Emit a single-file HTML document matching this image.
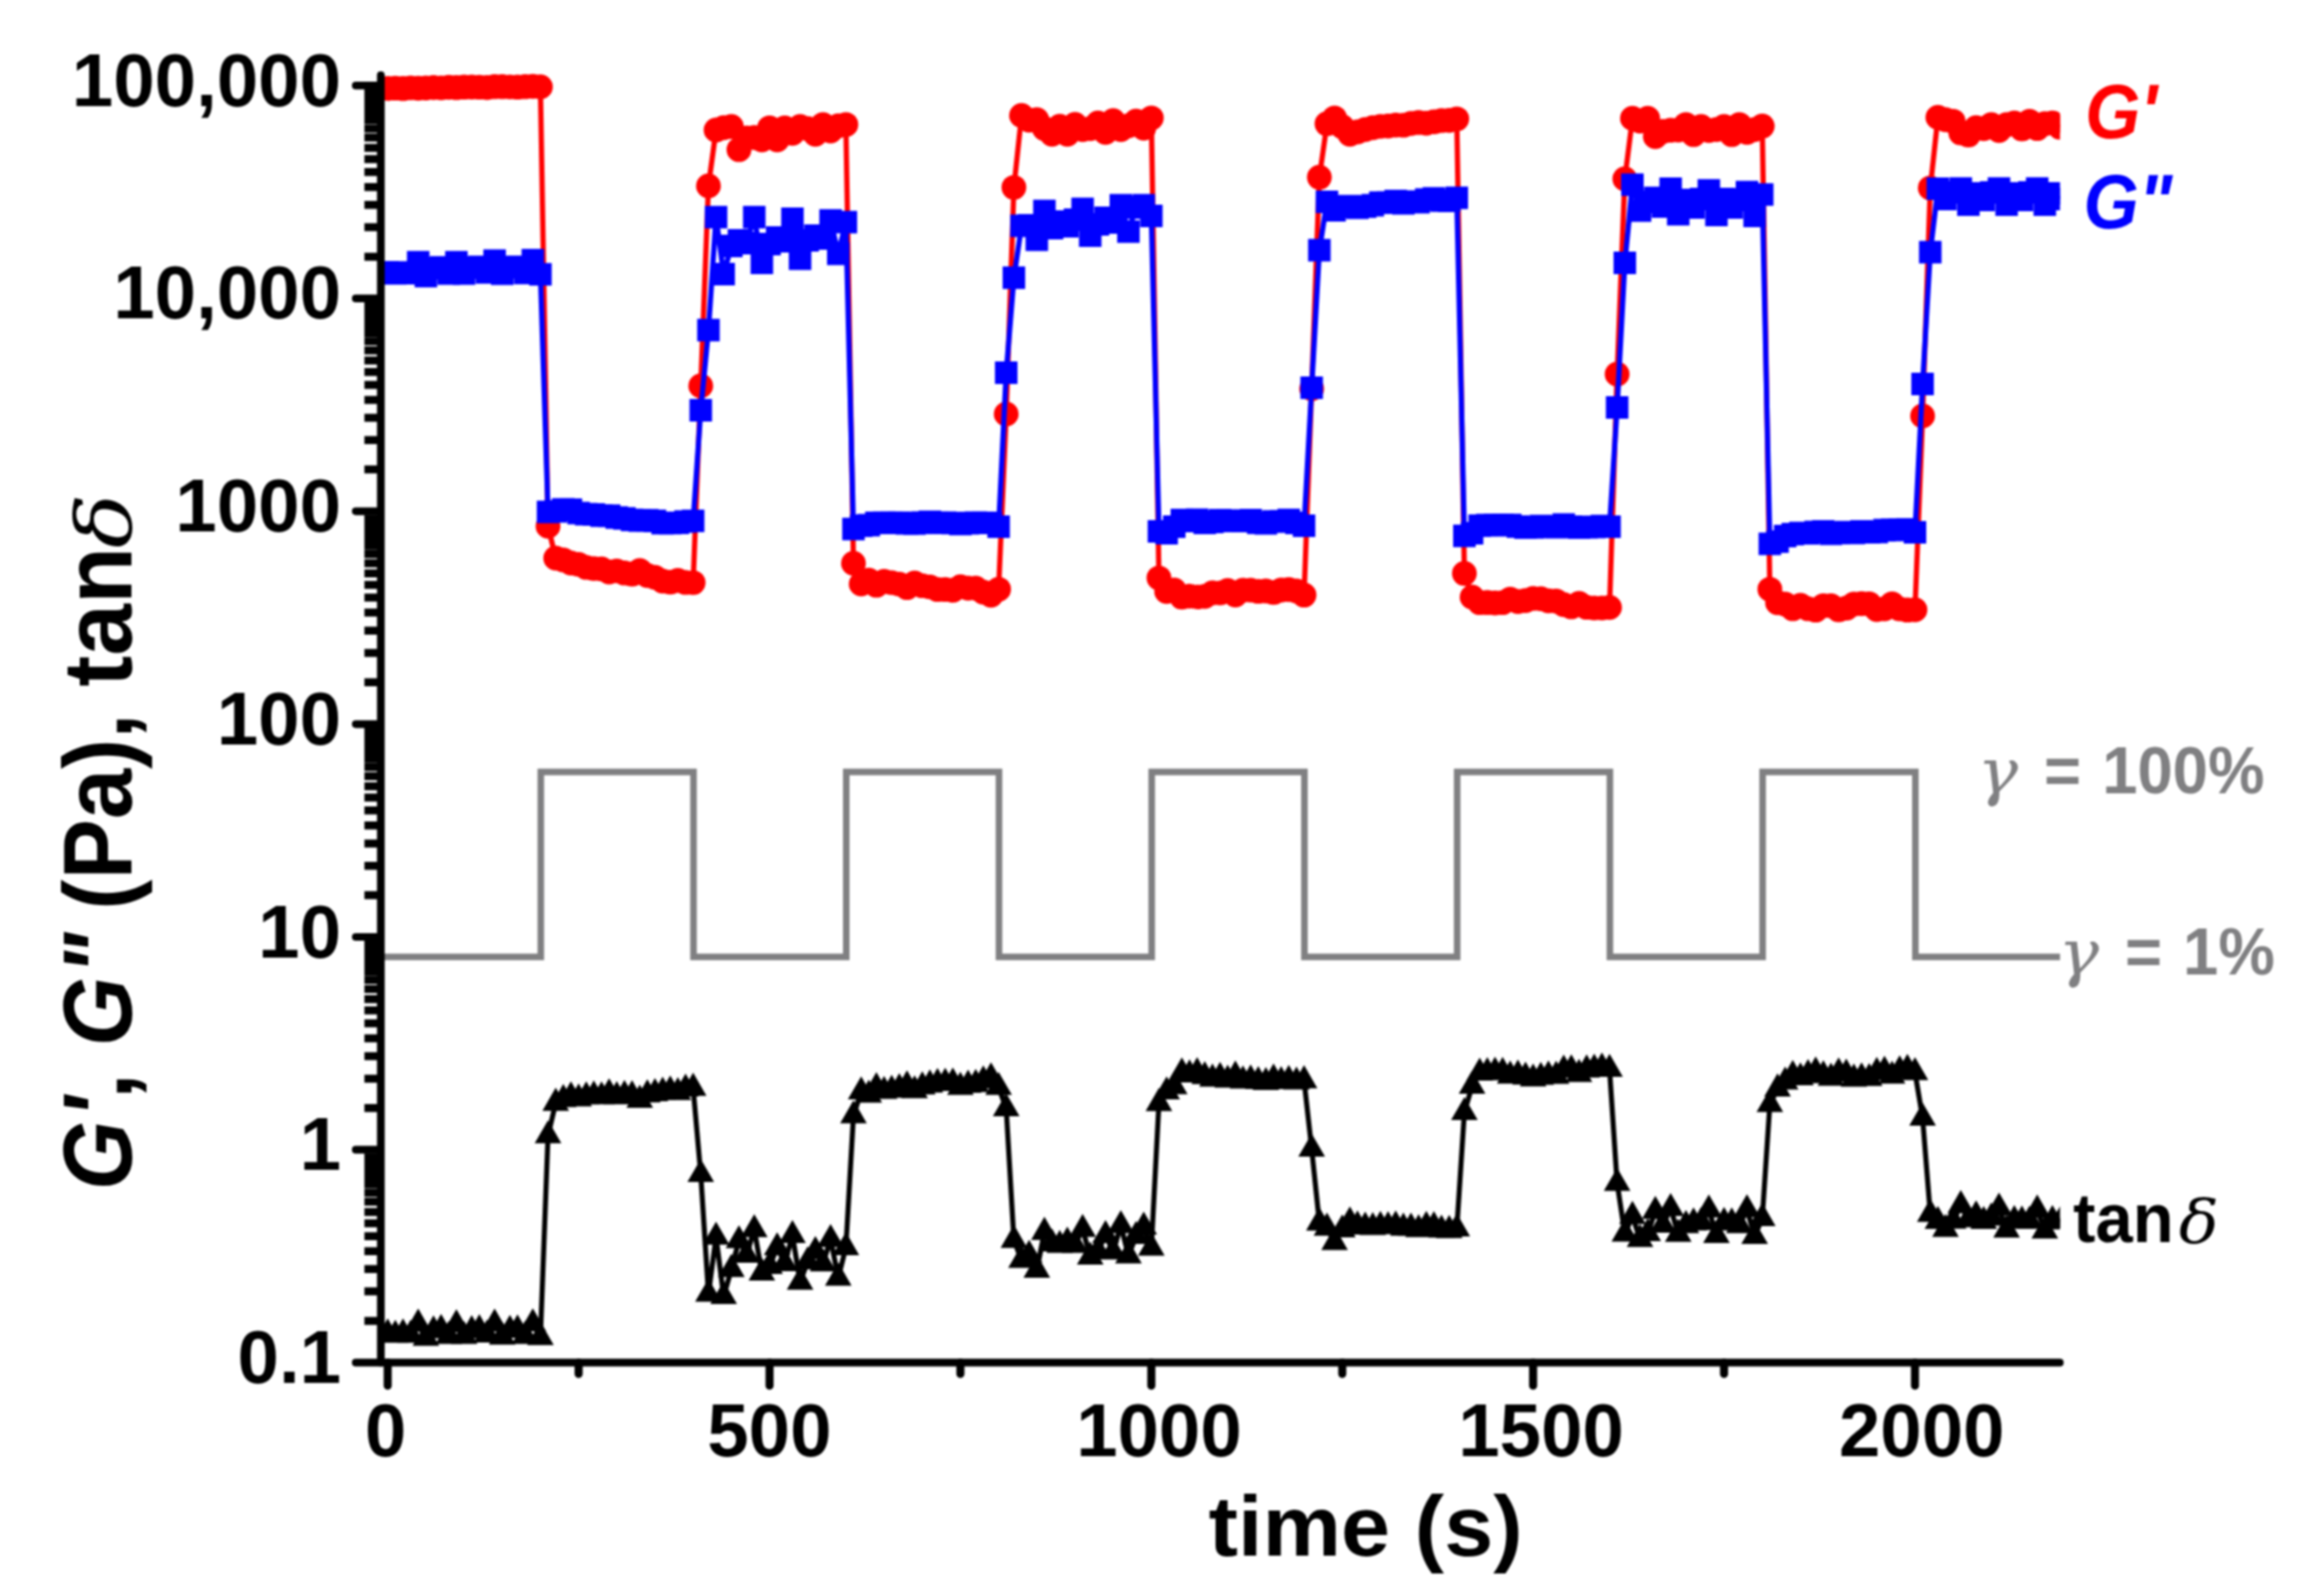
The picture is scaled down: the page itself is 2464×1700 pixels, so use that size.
<!DOCTYPE html>
<html lang="en"><head><meta charset="utf-8"><title>Step-strain rheology</title>
<style>html,body{margin:0;padding:0;background:#fff}svg{display:block;filter:blur(0.8px)}text{font-family:"Liberation Sans",sans-serif;font-weight:bold}.it{font-style:italic}.sy{font-family:"DejaVu Serif","Liberation Serif",serif;font-style:italic;font-weight:normal}</style></head><body>
<svg width="2464" height="1700" viewBox="0 0 2464 1700">
<rect width="2464" height="1700" fill="#fff"/>
<defs><clipPath id="plot"><rect x="404" y="40" width="1790.5" height="1420"/></clipPath></defs>
<g clip-path="url(#plot)">
<polyline fill="none" stroke="#808082" stroke-width="7" stroke-linejoin="miter" points="409,1019.3 576.1,1019.3 576.1,822.3 738.8,822.3 738.8,1019.3 901.5,1019.3 901.5,822.3 1064.2,822.3 1064.2,1019.3 1226.9,1019.3 1226.9,822.3 1389.6,822.3 1389.6,1019.3 1552.3,1019.3 1552.3,822.3 1715,822.3 1715,1019.3 1877.7,1019.3 1877.7,822.3 2040.4,822.3 2040.4,1019.3 2200,1019.3"/>
<polyline fill="none" stroke="#ff0000" stroke-width="5.6" stroke-linejoin="round" points="413,94.2 421.1,93.9 429.3,94.3 437.4,93.6 445.5,94 453.7,93.7 461.8,93.2 469.9,93.6 478.1,93 486.2,93.3 494.4,92.8 502.5,92.7 510.6,92.9 518.8,93.2 526.9,92.3 535,92.3 543.2,92.6 551.3,92.8 559.4,92.3 567.6,92 575.7,92.5 583.8,560.5 592,594.5 600.1,596.4 608.2,599.7 616.4,601.1 624.5,604.4 632.6,605.6 640.8,606 648.9,609.2 657,608.1 665.2,610.3 673.3,611.6 681.5,607.7 689.6,613 697.7,614.9 705.9,619 714,620.1 722.1,618.2 730.3,620.4 738.4,620.6 746.5,411 754.7,198 762.8,138.5 770.9,136 779.1,134.8 787.2,159.4 795.3,147 803.5,146.5 811.6,149 819.8,136.1 827.9,149 836,136.1 844.2,142 852.3,134.8 860.4,137 868.6,143 876.7,132.7 884.8,139.5 893,134 901.1,132.7 909.2,600 917.4,622 925.5,617.9 933.6,623.3 941.8,619.3 949.9,620.6 958,622.1 966.2,625.9 974.3,620.9 982.5,623.9 990.6,625.1 998.7,627.9 1006.9,627.9 1015,628.7 1023.1,625 1031.3,626.5 1039.4,626.5 1047.5,630.7 1055.7,634 1063.8,627.7 1071.9,441 1080.1,199.6 1088.2,123 1096.3,128 1104.5,127.5 1112.6,137 1120.7,143 1128.9,134.5 1137,143 1145.2,132.5 1153.3,138 1161.4,137 1169.6,131 1177.7,141 1185.8,128.5 1194,138 1202.1,134 1210.2,129 1218.4,136.5 1226.5,125.6 1234.6,615.6 1242.8,630 1250.9,628.5 1259,636.1 1267.2,635 1275.3,635.9 1283.4,635.2 1291.6,631.5 1299.7,631.6 1307.8,628.9 1316,633.7 1324.1,628.6 1332.3,628.6 1340.4,629.9 1348.5,629.5 1356.7,631.1 1364.8,628.5 1372.9,628 1381.1,629.4 1389.2,633.8 1397.3,414 1405.5,188.8 1413.6,131.8 1421.7,125.6 1429.9,135 1438,143 1446.1,140.5 1454.3,138 1462.4,136 1470.5,134.6 1478.7,134.2 1486.8,133.3 1495,133.4 1503.1,131.5 1511.2,130.5 1519.4,131.2 1527.5,129.8 1535.6,128.4 1543.8,128.2 1551.9,126.6 1560,610.8 1568.2,636 1576.3,641.8 1584.4,641.8 1592.6,642.2 1600.7,641.9 1608.8,638.1 1617,640.7 1625.1,639.7 1633.2,637.4 1641.4,637.7 1649.5,640 1657.7,640.2 1665.8,644 1673.9,646.4 1682.1,642.6 1690.2,646.9 1698.3,647.6 1706.5,647.6 1714.6,647 1722.7,398.5 1730.9,190.5 1739,126 1747.1,129 1755.3,126 1763.4,145.5 1771.5,140 1779.7,138.7 1787.8,138.5 1796,132.6 1804.1,143.4 1812.2,134.8 1820.4,139 1828.5,138 1836.6,134.8 1844.8,143.4 1852.9,132.6 1861,141 1869.2,138 1877.3,134.3 1885.4,627.7 1893.6,642 1901.7,643.4 1909.8,648.3 1918,644.7 1926.1,648.4 1934.2,649.8 1942.4,645.2 1950.5,645.2 1958.7,649.6 1966.8,647.8 1974.9,643.4 1983.1,643 1991.2,643.2 1999.3,649.2 2007.5,648.5 2015.6,643.2 2023.7,648.6 2031.9,649.8 2040,649.5 2048.1,443 2056.3,200.2 2064.4,125 2072.5,127.5 2080.7,129.2 2088.8,141.6 2096.9,143.8 2105.1,136 2113.2,137 2121.3,132.6 2129.5,139 2137.6,132.8 2145.8,131 2153.9,137.3 2162,129.2 2170.2,136.9 2178.3,131.8 2186.4,130.9 2194.6,135.6"/>
<g fill="#ff0000"><circle cx="413" cy="94.2" r="13.2"/><circle cx="421.1" cy="93.9" r="13.2"/><circle cx="429.3" cy="94.3" r="13.2"/><circle cx="437.4" cy="93.6" r="13.2"/><circle cx="445.5" cy="94" r="13.2"/><circle cx="453.7" cy="93.7" r="13.2"/><circle cx="461.8" cy="93.2" r="13.2"/><circle cx="469.9" cy="93.6" r="13.2"/><circle cx="478.1" cy="93" r="13.2"/><circle cx="486.2" cy="93.3" r="13.2"/><circle cx="494.4" cy="92.8" r="13.2"/><circle cx="502.5" cy="92.7" r="13.2"/><circle cx="510.6" cy="92.9" r="13.2"/><circle cx="518.8" cy="93.2" r="13.2"/><circle cx="526.9" cy="92.3" r="13.2"/><circle cx="535" cy="92.3" r="13.2"/><circle cx="543.2" cy="92.6" r="13.2"/><circle cx="551.3" cy="92.8" r="13.2"/><circle cx="559.4" cy="92.3" r="13.2"/><circle cx="567.6" cy="92" r="13.2"/><circle cx="575.7" cy="92.5" r="13.2"/><circle cx="583.8" cy="560.5" r="13.2"/><circle cx="592" cy="594.5" r="13.2"/><circle cx="600.1" cy="596.4" r="13.2"/><circle cx="608.2" cy="599.7" r="13.2"/><circle cx="616.4" cy="601.1" r="13.2"/><circle cx="624.5" cy="604.4" r="13.2"/><circle cx="632.6" cy="605.6" r="13.2"/><circle cx="640.8" cy="606" r="13.2"/><circle cx="648.9" cy="609.2" r="13.2"/><circle cx="657" cy="608.1" r="13.2"/><circle cx="665.2" cy="610.3" r="13.2"/><circle cx="673.3" cy="611.6" r="13.2"/><circle cx="681.5" cy="607.7" r="13.2"/><circle cx="689.6" cy="613" r="13.2"/><circle cx="697.7" cy="614.9" r="13.2"/><circle cx="705.9" cy="619" r="13.2"/><circle cx="714" cy="620.1" r="13.2"/><circle cx="722.1" cy="618.2" r="13.2"/><circle cx="730.3" cy="620.4" r="13.2"/><circle cx="738.4" cy="620.6" r="13.2"/><circle cx="746.5" cy="411" r="13.2"/><circle cx="754.7" cy="198" r="13.2"/><circle cx="762.8" cy="138.5" r="13.2"/><circle cx="770.9" cy="136" r="13.2"/><circle cx="779.1" cy="134.8" r="13.2"/><circle cx="787.2" cy="159.4" r="13.2"/><circle cx="795.3" cy="147" r="13.2"/><circle cx="803.5" cy="146.5" r="13.2"/><circle cx="811.6" cy="149" r="13.2"/><circle cx="819.8" cy="136.1" r="13.2"/><circle cx="827.9" cy="149" r="13.2"/><circle cx="836" cy="136.1" r="13.2"/><circle cx="844.2" cy="142" r="13.2"/><circle cx="852.3" cy="134.8" r="13.2"/><circle cx="860.4" cy="137" r="13.2"/><circle cx="868.6" cy="143" r="13.2"/><circle cx="876.7" cy="132.7" r="13.2"/><circle cx="884.8" cy="139.5" r="13.2"/><circle cx="893" cy="134" r="13.2"/><circle cx="901.1" cy="132.7" r="13.2"/><circle cx="909.2" cy="600" r="13.2"/><circle cx="917.4" cy="622" r="13.2"/><circle cx="925.5" cy="617.9" r="13.2"/><circle cx="933.6" cy="623.3" r="13.2"/><circle cx="941.8" cy="619.3" r="13.2"/><circle cx="949.9" cy="620.6" r="13.2"/><circle cx="958" cy="622.1" r="13.2"/><circle cx="966.2" cy="625.9" r="13.2"/><circle cx="974.3" cy="620.9" r="13.2"/><circle cx="982.5" cy="623.9" r="13.2"/><circle cx="990.6" cy="625.1" r="13.2"/><circle cx="998.7" cy="627.9" r="13.2"/><circle cx="1006.9" cy="627.9" r="13.2"/><circle cx="1015" cy="628.7" r="13.2"/><circle cx="1023.1" cy="625" r="13.2"/><circle cx="1031.3" cy="626.5" r="13.2"/><circle cx="1039.4" cy="626.5" r="13.2"/><circle cx="1047.5" cy="630.7" r="13.2"/><circle cx="1055.7" cy="634" r="13.2"/><circle cx="1063.8" cy="627.7" r="13.2"/><circle cx="1071.9" cy="441" r="13.2"/><circle cx="1080.1" cy="199.6" r="13.2"/><circle cx="1088.2" cy="123" r="13.2"/><circle cx="1096.3" cy="128" r="13.2"/><circle cx="1104.5" cy="127.5" r="13.2"/><circle cx="1112.6" cy="137" r="13.2"/><circle cx="1120.7" cy="143" r="13.2"/><circle cx="1128.9" cy="134.5" r="13.2"/><circle cx="1137" cy="143" r="13.2"/><circle cx="1145.2" cy="132.5" r="13.2"/><circle cx="1153.3" cy="138" r="13.2"/><circle cx="1161.4" cy="137" r="13.2"/><circle cx="1169.6" cy="131" r="13.2"/><circle cx="1177.7" cy="141" r="13.2"/><circle cx="1185.8" cy="128.5" r="13.2"/><circle cx="1194" cy="138" r="13.2"/><circle cx="1202.1" cy="134" r="13.2"/><circle cx="1210.2" cy="129" r="13.2"/><circle cx="1218.4" cy="136.5" r="13.2"/><circle cx="1226.5" cy="125.6" r="13.2"/><circle cx="1234.6" cy="615.6" r="13.2"/><circle cx="1242.8" cy="630" r="13.2"/><circle cx="1250.9" cy="628.5" r="13.2"/><circle cx="1259" cy="636.1" r="13.2"/><circle cx="1267.2" cy="635" r="13.2"/><circle cx="1275.3" cy="635.9" r="13.2"/><circle cx="1283.4" cy="635.2" r="13.2"/><circle cx="1291.6" cy="631.5" r="13.2"/><circle cx="1299.7" cy="631.6" r="13.2"/><circle cx="1307.8" cy="628.9" r="13.2"/><circle cx="1316" cy="633.7" r="13.2"/><circle cx="1324.1" cy="628.6" r="13.2"/><circle cx="1332.3" cy="628.6" r="13.2"/><circle cx="1340.4" cy="629.9" r="13.2"/><circle cx="1348.5" cy="629.5" r="13.2"/><circle cx="1356.7" cy="631.1" r="13.2"/><circle cx="1364.8" cy="628.5" r="13.2"/><circle cx="1372.9" cy="628" r="13.2"/><circle cx="1381.1" cy="629.4" r="13.2"/><circle cx="1389.2" cy="633.8" r="13.2"/><circle cx="1397.3" cy="414" r="13.2"/><circle cx="1405.5" cy="188.8" r="13.2"/><circle cx="1413.6" cy="131.8" r="13.2"/><circle cx="1421.7" cy="125.6" r="13.2"/><circle cx="1429.9" cy="135" r="13.2"/><circle cx="1438" cy="143" r="13.2"/><circle cx="1446.1" cy="140.5" r="13.2"/><circle cx="1454.3" cy="138" r="13.2"/><circle cx="1462.4" cy="136" r="13.2"/><circle cx="1470.5" cy="134.6" r="13.2"/><circle cx="1478.7" cy="134.2" r="13.2"/><circle cx="1486.8" cy="133.3" r="13.2"/><circle cx="1495" cy="133.4" r="13.2"/><circle cx="1503.1" cy="131.5" r="13.2"/><circle cx="1511.2" cy="130.5" r="13.2"/><circle cx="1519.4" cy="131.2" r="13.2"/><circle cx="1527.5" cy="129.8" r="13.2"/><circle cx="1535.6" cy="128.4" r="13.2"/><circle cx="1543.8" cy="128.2" r="13.2"/><circle cx="1551.9" cy="126.6" r="13.2"/><circle cx="1560" cy="610.8" r="13.2"/><circle cx="1568.2" cy="636" r="13.2"/><circle cx="1576.3" cy="641.8" r="13.2"/><circle cx="1584.4" cy="641.8" r="13.2"/><circle cx="1592.6" cy="642.2" r="13.2"/><circle cx="1600.7" cy="641.9" r="13.2"/><circle cx="1608.8" cy="638.1" r="13.2"/><circle cx="1617" cy="640.7" r="13.2"/><circle cx="1625.1" cy="639.7" r="13.2"/><circle cx="1633.2" cy="637.4" r="13.2"/><circle cx="1641.4" cy="637.7" r="13.2"/><circle cx="1649.5" cy="640" r="13.2"/><circle cx="1657.7" cy="640.2" r="13.2"/><circle cx="1665.8" cy="644" r="13.2"/><circle cx="1673.9" cy="646.4" r="13.2"/><circle cx="1682.1" cy="642.6" r="13.2"/><circle cx="1690.2" cy="646.9" r="13.2"/><circle cx="1698.3" cy="647.6" r="13.2"/><circle cx="1706.5" cy="647.6" r="13.2"/><circle cx="1714.6" cy="647" r="13.2"/><circle cx="1722.7" cy="398.5" r="13.2"/><circle cx="1730.9" cy="190.5" r="13.2"/><circle cx="1739" cy="126" r="13.2"/><circle cx="1747.1" cy="129" r="13.2"/><circle cx="1755.3" cy="126" r="13.2"/><circle cx="1763.4" cy="145.5" r="13.2"/><circle cx="1771.5" cy="140" r="13.2"/><circle cx="1779.7" cy="138.7" r="13.2"/><circle cx="1787.8" cy="138.5" r="13.2"/><circle cx="1796" cy="132.6" r="13.2"/><circle cx="1804.1" cy="143.4" r="13.2"/><circle cx="1812.2" cy="134.8" r="13.2"/><circle cx="1820.4" cy="139" r="13.2"/><circle cx="1828.5" cy="138" r="13.2"/><circle cx="1836.6" cy="134.8" r="13.2"/><circle cx="1844.8" cy="143.4" r="13.2"/><circle cx="1852.9" cy="132.6" r="13.2"/><circle cx="1861" cy="141" r="13.2"/><circle cx="1869.2" cy="138" r="13.2"/><circle cx="1877.3" cy="134.3" r="13.2"/><circle cx="1885.4" cy="627.7" r="13.2"/><circle cx="1893.6" cy="642" r="13.2"/><circle cx="1901.7" cy="643.4" r="13.2"/><circle cx="1909.8" cy="648.3" r="13.2"/><circle cx="1918" cy="644.7" r="13.2"/><circle cx="1926.1" cy="648.4" r="13.2"/><circle cx="1934.2" cy="649.8" r="13.2"/><circle cx="1942.4" cy="645.2" r="13.2"/><circle cx="1950.5" cy="645.2" r="13.2"/><circle cx="1958.7" cy="649.6" r="13.2"/><circle cx="1966.8" cy="647.8" r="13.2"/><circle cx="1974.9" cy="643.4" r="13.2"/><circle cx="1983.1" cy="643" r="13.2"/><circle cx="1991.2" cy="643.2" r="13.2"/><circle cx="1999.3" cy="649.2" r="13.2"/><circle cx="2007.5" cy="648.5" r="13.2"/><circle cx="2015.6" cy="643.2" r="13.2"/><circle cx="2023.7" cy="648.6" r="13.2"/><circle cx="2031.9" cy="649.8" r="13.2"/><circle cx="2040" cy="649.5" r="13.2"/><circle cx="2048.1" cy="443" r="13.2"/><circle cx="2056.3" cy="200.2" r="13.2"/><circle cx="2064.4" cy="125" r="13.2"/><circle cx="2072.5" cy="127.5" r="13.2"/><circle cx="2080.7" cy="129.2" r="13.2"/><circle cx="2088.8" cy="141.6" r="13.2"/><circle cx="2096.9" cy="143.8" r="13.2"/><circle cx="2105.1" cy="136" r="13.2"/><circle cx="2113.2" cy="137" r="13.2"/><circle cx="2121.3" cy="132.6" r="13.2"/><circle cx="2129.5" cy="139" r="13.2"/><circle cx="2137.6" cy="132.8" r="13.2"/><circle cx="2145.8" cy="131" r="13.2"/><circle cx="2153.9" cy="137.3" r="13.2"/><circle cx="2162" cy="129.2" r="13.2"/><circle cx="2170.2" cy="136.9" r="13.2"/><circle cx="2178.3" cy="131.8" r="13.2"/><circle cx="2186.4" cy="130.9" r="13.2"/><circle cx="2194.6" cy="135.6" r="13.2"/></g>
<polyline fill="none" stroke="#0000ff" stroke-width="5.6" stroke-linejoin="round" points="413,290 421.1,291.2 429.3,290.2 437.4,291 445.5,279.3 453.7,294.1 461.8,285.8 469.9,284.8 478.1,291.4 486.2,279.3 494.4,291.4 502.5,285.1 510.6,284.3 518.8,290.2 526.9,277.6 535,291.6 543.2,284.6 551.3,284.4 559.4,290.8 567.6,277.1 575.7,292.2 583.8,545.3 592,544.7 600.1,542.6 608.2,542.9 616.4,546.5 624.5,547.7 632.6,548 640.8,549.3 648.9,549.3 657,551.3 665.2,552.2 673.3,553.8 681.5,554.5 689.6,554.2 697.7,554.8 705.9,557.3 714,557.2 722.1,556.9 730.3,555.5 738.4,554.8 746.5,437 754.7,351.6 762.8,231.3 770.9,292 779.1,262 787.2,256 795.3,259 803.5,231.3 811.6,280 819.8,260 827.9,253 836,257 844.2,233 852.3,275.6 860.4,256 868.6,251 876.7,254 884.8,234.8 893,270.4 901.1,236.6 909.2,563.5 917.4,560 925.5,559.4 933.6,556.9 941.8,556.8 949.9,556.9 958,556.8 966.2,557.5 974.3,557.7 982.5,556.6 990.6,555.8 998.7,556.9 1006.9,556.7 1015,557.2 1023.1,558.2 1031.3,557.4 1039.4,556.7 1047.5,556.9 1055.7,557 1063.8,561 1071.9,397 1080.1,295.8 1088.2,240.5 1096.3,240 1104.5,255.4 1112.6,224.7 1120.7,243 1128.9,236 1137,241 1145.2,234 1153.3,222.5 1161.4,251 1169.6,239 1177.7,232 1185.8,237 1194,218.6 1202.1,246.7 1210.2,221 1218.4,218.6 1226.5,230 1234.6,566 1242.8,568 1250.9,561 1259,553.9 1267.2,555 1275.3,553.6 1283.4,557 1291.6,556 1299.7,554.1 1307.8,554.5 1316,554.9 1324.1,555 1332.3,554 1340.4,556.9 1348.5,557.5 1356.7,555.4 1364.8,555.4 1372.9,553.8 1381.1,557 1389.2,560 1397.3,413 1405.5,266.5 1413.6,215 1421.7,224 1429.9,220 1438,219.6 1446.1,221.3 1454.3,220.1 1462.4,218.6 1470.5,215.8 1478.7,215.8 1486.8,214.1 1495,216.6 1503.1,214.7 1511.2,215.4 1519.4,212.5 1527.5,211.3 1535.6,213.7 1543.8,213.9 1551.9,210.7 1560,570.8 1568.2,568 1576.3,559.9 1584.4,559.3 1592.6,559.3 1600.7,559.2 1608.8,559.2 1617,560.9 1625.1,562 1633.2,561.8 1641.4,560.3 1649.5,561 1657.7,561.6 1665.8,558.7 1673.9,561 1682.1,562 1690.2,561.5 1698.3,561.4 1706.5,560.3 1714.6,561 1722.7,434 1730.9,280 1739,196.7 1747.1,224.3 1755.3,215 1763.4,210.8 1771.5,220 1779.7,201 1787.8,228.2 1796,213 1804.1,221 1812.2,212 1820.4,202.8 1828.5,229 1836.6,212 1844.8,221 1852.9,213 1861,204.6 1869.2,230 1877.3,207.2 1885.4,579.3 1893.6,576.9 1901.7,571 1909.8,568.9 1918,567.7 1926.1,568.1 1934.2,566.6 1942.4,566 1950.5,568.6 1958.7,567.4 1966.8,566.8 1974.9,567.7 1983.1,566 1991.2,567 1999.3,566.7 2007.5,564.6 2015.6,564.4 2023.7,564.3 2031.9,563.9 2040,567 2048.1,409 2056.3,268.6 2064.4,201 2072.5,212 2080.7,205 2088.8,200.8 2096.9,218 2105.1,206 2113.2,213 2121.3,205 2129.5,200.8 2137.6,218 2145.8,206 2153.9,213 2162,205 2170.2,200.8 2178.3,218 2186.4,206 2194.6,212"/>
<g fill="#0000ff"><rect x="401" y="278" width="24" height="24"/><rect x="409.1" y="279.2" width="24" height="24"/><rect x="417.3" y="278.2" width="24" height="24"/><rect x="425.4" y="279" width="24" height="24"/><rect x="433.5" y="267.3" width="24" height="24"/><rect x="441.7" y="282.1" width="24" height="24"/><rect x="449.8" y="273.8" width="24" height="24"/><rect x="457.9" y="272.8" width="24" height="24"/><rect x="466.1" y="279.4" width="24" height="24"/><rect x="474.2" y="267.3" width="24" height="24"/><rect x="482.4" y="279.4" width="24" height="24"/><rect x="490.5" y="273.1" width="24" height="24"/><rect x="498.6" y="272.3" width="24" height="24"/><rect x="506.8" y="278.2" width="24" height="24"/><rect x="514.9" y="265.6" width="24" height="24"/><rect x="523" y="279.6" width="24" height="24"/><rect x="531.2" y="272.6" width="24" height="24"/><rect x="539.3" y="272.4" width="24" height="24"/><rect x="547.4" y="278.8" width="24" height="24"/><rect x="555.6" y="265.1" width="24" height="24"/><rect x="563.7" y="280.2" width="24" height="24"/><rect x="571.8" y="533.3" width="24" height="24"/><rect x="580" y="532.7" width="24" height="24"/><rect x="588.1" y="530.6" width="24" height="24"/><rect x="596.2" y="530.9" width="24" height="24"/><rect x="604.4" y="534.5" width="24" height="24"/><rect x="612.5" y="535.7" width="24" height="24"/><rect x="620.6" y="536" width="24" height="24"/><rect x="628.8" y="537.3" width="24" height="24"/><rect x="636.9" y="537.3" width="24" height="24"/><rect x="645" y="539.3" width="24" height="24"/><rect x="653.2" y="540.2" width="24" height="24"/><rect x="661.3" y="541.8" width="24" height="24"/><rect x="669.5" y="542.5" width="24" height="24"/><rect x="677.6" y="542.2" width="24" height="24"/><rect x="685.7" y="542.8" width="24" height="24"/><rect x="693.9" y="545.3" width="24" height="24"/><rect x="702" y="545.2" width="24" height="24"/><rect x="710.1" y="544.9" width="24" height="24"/><rect x="718.3" y="543.5" width="24" height="24"/><rect x="726.4" y="542.8" width="24" height="24"/><rect x="734.5" y="425" width="24" height="24"/><rect x="742.7" y="339.6" width="24" height="24"/><rect x="750.8" y="219.3" width="24" height="24"/><rect x="758.9" y="280" width="24" height="24"/><rect x="767.1" y="250" width="24" height="24"/><rect x="775.2" y="244" width="24" height="24"/><rect x="783.3" y="247" width="24" height="24"/><rect x="791.5" y="219.3" width="24" height="24"/><rect x="799.6" y="268" width="24" height="24"/><rect x="807.8" y="248" width="24" height="24"/><rect x="815.9" y="241" width="24" height="24"/><rect x="824" y="245" width="24" height="24"/><rect x="832.2" y="221" width="24" height="24"/><rect x="840.3" y="263.6" width="24" height="24"/><rect x="848.4" y="244" width="24" height="24"/><rect x="856.6" y="239" width="24" height="24"/><rect x="864.7" y="242" width="24" height="24"/><rect x="872.8" y="222.8" width="24" height="24"/><rect x="881" y="258.4" width="24" height="24"/><rect x="889.1" y="224.6" width="24" height="24"/><rect x="897.2" y="551.5" width="24" height="24"/><rect x="905.4" y="548" width="24" height="24"/><rect x="913.5" y="547.4" width="24" height="24"/><rect x="921.6" y="544.9" width="24" height="24"/><rect x="929.8" y="544.8" width="24" height="24"/><rect x="937.9" y="544.9" width="24" height="24"/><rect x="946" y="544.8" width="24" height="24"/><rect x="954.2" y="545.5" width="24" height="24"/><rect x="962.3" y="545.7" width="24" height="24"/><rect x="970.5" y="544.6" width="24" height="24"/><rect x="978.6" y="543.8" width="24" height="24"/><rect x="986.7" y="544.9" width="24" height="24"/><rect x="994.9" y="544.7" width="24" height="24"/><rect x="1003" y="545.2" width="24" height="24"/><rect x="1011.1" y="546.2" width="24" height="24"/><rect x="1019.3" y="545.4" width="24" height="24"/><rect x="1027.4" y="544.7" width="24" height="24"/><rect x="1035.5" y="544.9" width="24" height="24"/><rect x="1043.7" y="545" width="24" height="24"/><rect x="1051.8" y="549" width="24" height="24"/><rect x="1059.9" y="385" width="24" height="24"/><rect x="1068.1" y="283.8" width="24" height="24"/><rect x="1076.2" y="228.5" width="24" height="24"/><rect x="1084.3" y="228" width="24" height="24"/><rect x="1092.5" y="243.4" width="24" height="24"/><rect x="1100.6" y="212.7" width="24" height="24"/><rect x="1108.7" y="231" width="24" height="24"/><rect x="1116.9" y="224" width="24" height="24"/><rect x="1125" y="229" width="24" height="24"/><rect x="1133.2" y="222" width="24" height="24"/><rect x="1141.3" y="210.5" width="24" height="24"/><rect x="1149.4" y="239" width="24" height="24"/><rect x="1157.6" y="227" width="24" height="24"/><rect x="1165.7" y="220" width="24" height="24"/><rect x="1173.8" y="225" width="24" height="24"/><rect x="1182" y="206.6" width="24" height="24"/><rect x="1190.1" y="234.7" width="24" height="24"/><rect x="1198.2" y="209" width="24" height="24"/><rect x="1206.4" y="206.6" width="24" height="24"/><rect x="1214.5" y="218" width="24" height="24"/><rect x="1222.6" y="554" width="24" height="24"/><rect x="1230.8" y="556" width="24" height="24"/><rect x="1238.9" y="549" width="24" height="24"/><rect x="1247" y="541.9" width="24" height="24"/><rect x="1255.2" y="543" width="24" height="24"/><rect x="1263.3" y="541.6" width="24" height="24"/><rect x="1271.4" y="545" width="24" height="24"/><rect x="1279.6" y="544" width="24" height="24"/><rect x="1287.7" y="542.1" width="24" height="24"/><rect x="1295.8" y="542.5" width="24" height="24"/><rect x="1304" y="542.9" width="24" height="24"/><rect x="1312.1" y="543" width="24" height="24"/><rect x="1320.3" y="542" width="24" height="24"/><rect x="1328.4" y="544.9" width="24" height="24"/><rect x="1336.5" y="545.5" width="24" height="24"/><rect x="1344.7" y="543.4" width="24" height="24"/><rect x="1352.8" y="543.4" width="24" height="24"/><rect x="1360.9" y="541.8" width="24" height="24"/><rect x="1369.1" y="545" width="24" height="24"/><rect x="1377.2" y="548" width="24" height="24"/><rect x="1385.3" y="401" width="24" height="24"/><rect x="1393.5" y="254.5" width="24" height="24"/><rect x="1401.6" y="203" width="24" height="24"/><rect x="1409.7" y="212" width="24" height="24"/><rect x="1417.9" y="208" width="24" height="24"/><rect x="1426" y="207.6" width="24" height="24"/><rect x="1434.1" y="209.3" width="24" height="24"/><rect x="1442.3" y="208.1" width="24" height="24"/><rect x="1450.4" y="206.6" width="24" height="24"/><rect x="1458.5" y="203.8" width="24" height="24"/><rect x="1466.7" y="203.8" width="24" height="24"/><rect x="1474.8" y="202.1" width="24" height="24"/><rect x="1483" y="204.6" width="24" height="24"/><rect x="1491.1" y="202.7" width="24" height="24"/><rect x="1499.2" y="203.4" width="24" height="24"/><rect x="1507.4" y="200.5" width="24" height="24"/><rect x="1515.5" y="199.3" width="24" height="24"/><rect x="1523.6" y="201.7" width="24" height="24"/><rect x="1531.8" y="201.9" width="24" height="24"/><rect x="1539.9" y="198.7" width="24" height="24"/><rect x="1548" y="558.8" width="24" height="24"/><rect x="1556.2" y="556" width="24" height="24"/><rect x="1564.3" y="547.9" width="24" height="24"/><rect x="1572.4" y="547.3" width="24" height="24"/><rect x="1580.6" y="547.3" width="24" height="24"/><rect x="1588.7" y="547.2" width="24" height="24"/><rect x="1596.8" y="547.2" width="24" height="24"/><rect x="1605" y="548.9" width="24" height="24"/><rect x="1613.1" y="550" width="24" height="24"/><rect x="1621.2" y="549.8" width="24" height="24"/><rect x="1629.4" y="548.3" width="24" height="24"/><rect x="1637.5" y="549" width="24" height="24"/><rect x="1645.7" y="549.6" width="24" height="24"/><rect x="1653.8" y="546.7" width="24" height="24"/><rect x="1661.9" y="549" width="24" height="24"/><rect x="1670.1" y="550" width="24" height="24"/><rect x="1678.2" y="549.5" width="24" height="24"/><rect x="1686.3" y="549.4" width="24" height="24"/><rect x="1694.5" y="548.3" width="24" height="24"/><rect x="1702.6" y="549" width="24" height="24"/><rect x="1710.7" y="422" width="24" height="24"/><rect x="1718.9" y="268" width="24" height="24"/><rect x="1727" y="184.7" width="24" height="24"/><rect x="1735.1" y="212.3" width="24" height="24"/><rect x="1743.3" y="203" width="24" height="24"/><rect x="1751.4" y="198.8" width="24" height="24"/><rect x="1759.5" y="208" width="24" height="24"/><rect x="1767.7" y="189" width="24" height="24"/><rect x="1775.8" y="216.2" width="24" height="24"/><rect x="1784" y="201" width="24" height="24"/><rect x="1792.1" y="209" width="24" height="24"/><rect x="1800.2" y="200" width="24" height="24"/><rect x="1808.4" y="190.8" width="24" height="24"/><rect x="1816.5" y="217" width="24" height="24"/><rect x="1824.6" y="200" width="24" height="24"/><rect x="1832.8" y="209" width="24" height="24"/><rect x="1840.9" y="201" width="24" height="24"/><rect x="1849" y="192.6" width="24" height="24"/><rect x="1857.2" y="218" width="24" height="24"/><rect x="1865.3" y="195.2" width="24" height="24"/><rect x="1873.4" y="567.3" width="24" height="24"/><rect x="1881.6" y="564.9" width="24" height="24"/><rect x="1889.7" y="559" width="24" height="24"/><rect x="1897.8" y="556.9" width="24" height="24"/><rect x="1906" y="555.7" width="24" height="24"/><rect x="1914.1" y="556.1" width="24" height="24"/><rect x="1922.2" y="554.6" width="24" height="24"/><rect x="1930.4" y="554" width="24" height="24"/><rect x="1938.5" y="556.6" width="24" height="24"/><rect x="1946.7" y="555.4" width="24" height="24"/><rect x="1954.8" y="554.8" width="24" height="24"/><rect x="1962.9" y="555.7" width="24" height="24"/><rect x="1971.1" y="554" width="24" height="24"/><rect x="1979.2" y="555" width="24" height="24"/><rect x="1987.3" y="554.7" width="24" height="24"/><rect x="1995.5" y="552.6" width="24" height="24"/><rect x="2003.6" y="552.4" width="24" height="24"/><rect x="2011.7" y="552.3" width="24" height="24"/><rect x="2019.9" y="551.9" width="24" height="24"/><rect x="2028" y="555" width="24" height="24"/><rect x="2036.1" y="397" width="24" height="24"/><rect x="2044.3" y="256.6" width="24" height="24"/><rect x="2052.4" y="189" width="24" height="24"/><rect x="2060.5" y="200" width="24" height="24"/><rect x="2068.7" y="193" width="24" height="24"/><rect x="2076.8" y="188.8" width="24" height="24"/><rect x="2084.9" y="206" width="24" height="24"/><rect x="2093.1" y="194" width="24" height="24"/><rect x="2101.2" y="201" width="24" height="24"/><rect x="2109.3" y="193" width="24" height="24"/><rect x="2117.5" y="188.8" width="24" height="24"/><rect x="2125.6" y="206" width="24" height="24"/><rect x="2133.8" y="194" width="24" height="24"/><rect x="2141.9" y="201" width="24" height="24"/><rect x="2150" y="193" width="24" height="24"/><rect x="2158.2" y="188.8" width="24" height="24"/><rect x="2166.3" y="206" width="24" height="24"/><rect x="2174.4" y="194" width="24" height="24"/><rect x="2182.6" y="200" width="24" height="24"/></g>
<polyline fill="none" stroke="#000" stroke-width="5.4" stroke-linejoin="round" points="413,1420.5 421.1,1422 429.3,1420.6 437.4,1422 445.5,1410.1 453.7,1425.1 461.8,1417.3 469.9,1415.9 478.1,1423.1 486.2,1410.7 494.4,1423.3 502.5,1417.1 510.6,1416.1 518.8,1421.7 526.9,1410 535,1424 543.2,1416.7 551.3,1416.3 559.4,1423.1 567.6,1409.8 575.7,1424.4 583.8,1209.5 592,1174.9 600.1,1170.9 608.2,1168 616.4,1170.2 624.5,1168 632.6,1167.1 640.8,1168 648.9,1164.8 657,1167.9 665.2,1166.6 673.3,1166.9 681.5,1171.6 689.6,1165.9 697.7,1164.6 705.9,1163 714,1161.8 722.1,1163.5 730.3,1159.8 738.4,1158.9 746.5,1250.7 754.7,1378.3 762.8,1317.5 770.9,1380.7 779.1,1351.9 787.2,1321.3 795.3,1336.7 803.5,1309.5 811.6,1355.7 819.8,1348.6 827.9,1328.7 836,1345.6 844.2,1315.7 852.3,1365.5 860.4,1343.7 868.6,1332.7 876.7,1346 884.8,1320 893,1361.1 901.1,1328.6 909.2,1188.2 917.4,1162.7 925.5,1166.2 933.6,1158.2 941.8,1162.2 949.9,1161 958,1159.4 966.2,1156.3 974.3,1161.5 982.5,1157.4 990.6,1155.4 998.7,1153.7 1006.9,1153.5 1015,1153.2 1023.1,1157.9 1031.3,1155.6 1039.4,1154.9 1047.5,1151 1055.7,1147.7 1063.8,1158 1071.9,1180.7 1080.1,1320.9 1088.2,1342.2 1096.3,1336.7 1104.5,1352.6 1112.6,1312.4 1120.7,1324.7 1128.9,1326.2 1137,1322.7 1145.2,1326.2 1153.3,1309.2 1161.4,1338.7 1169.6,1332.7 1177.7,1315.7 1185.8,1333.2 1194,1305.3 1202.1,1337.4 1210.2,1316.7 1218.4,1306.8 1226.5,1329.1 1234.6,1175.1 1242.8,1162.7 1250.9,1157.2 1259,1142.5 1267.2,1144.6 1275.3,1142.4 1283.4,1146.5 1291.6,1149.1 1299.7,1147.2 1307.8,1150.3 1316,1145.9 1324.1,1151.1 1332.3,1150.1 1340.4,1151.7 1348.5,1152.7 1356.7,1149 1364.8,1151.7 1372.9,1150.5 1381.1,1152.3 1389.2,1150.9 1397.3,1223.7 1405.5,1302.4 1413.6,1307.9 1421.7,1323.1 1429.9,1309.7 1438,1301.3 1446.1,1305.5 1454.3,1306.8 1462.4,1307.3 1470.5,1306 1478.7,1306.3 1486.8,1305.6 1495,1307.9 1503.1,1307.9 1511.2,1309.5 1519.4,1306 1527.5,1306.3 1535.6,1310 1543.8,1310.4 1551.9,1308.8 1560,1184.7 1568.2,1156.7 1576.3,1142.7 1584.4,1142.2 1592.6,1141.8 1600.7,1142 1608.8,1145.9 1617,1144.9 1625.1,1147 1633.2,1149 1641.4,1147.3 1649.5,1145.7 1657.7,1146.1 1665.8,1139.5 1673.9,1139.3 1682.1,1144.1 1690.2,1139.4 1698.3,1138.5 1706.5,1137.4 1714.6,1138.7 1722.7,1260.2 1730.9,1314.2 1739,1295.4 1747.1,1320 1755.3,1313.7 1763.4,1290 1771.5,1304.7 1779.7,1287 1787.8,1314.4 1796,1305.1 1804.1,1302.3 1812.2,1301.9 1820.4,1288.5 1828.5,1315.7 1836.6,1301.9 1844.8,1302.3 1852.9,1305.1 1861,1288.3 1869.2,1316.7 1877.3,1297.6 1885.4,1176.3 1893.6,1159.6 1901.7,1152.3 1909.8,1145.3 1918,1147.7 1926.1,1144.3 1934.2,1141.5 1942.4,1145.5 1950.5,1148.1 1958.7,1142.5 1966.8,1143.7 1974.9,1149.1 1983.1,1147.7 1991.2,1148.5 1999.3,1142.1 2007.5,1140.8 2015.6,1146 2023.7,1140.4 2031.9,1138.8 2040,1142.2 2048.1,1190.7 2056.3,1293.1 2064.4,1300.7 2072.5,1309.2 2080.7,1300.5 2088.8,1283.9 2096.9,1298.9 2105.1,1294.7 2113.2,1300.7 2121.3,1297.1 2129.5,1286.5 2137.6,1309.9 2145.8,1299.7 2153.9,1300.4 2162,1300.5 2170.2,1288.6 2178.3,1310.9 2186.4,1299.8 2194.6,1301.1"/>
<g fill="#000"><path d="M413 1404.2l14.2 24.6h-28.4z"/><path d="M421.1 1405.7l14.2 24.6h-28.4z"/><path d="M429.3 1404.3l14.2 24.6h-28.4z"/><path d="M437.4 1405.7l14.2 24.6h-28.4z"/><path d="M445.5 1393.8l14.2 24.6h-28.4z"/><path d="M453.7 1408.8l14.2 24.6h-28.4z"/><path d="M461.8 1401l14.2 24.6h-28.4z"/><path d="M469.9 1399.6l14.2 24.6h-28.4z"/><path d="M478.1 1406.8l14.2 24.6h-28.4z"/><path d="M486.2 1394.4l14.2 24.6h-28.4z"/><path d="M494.4 1407l14.2 24.6h-28.4z"/><path d="M502.5 1400.8l14.2 24.6h-28.4z"/><path d="M510.6 1399.8l14.2 24.6h-28.4z"/><path d="M518.8 1405.4l14.2 24.6h-28.4z"/><path d="M526.9 1393.7l14.2 24.6h-28.4z"/><path d="M535 1407.7l14.2 24.6h-28.4z"/><path d="M543.2 1400.4l14.2 24.6h-28.4z"/><path d="M551.3 1400l14.2 24.6h-28.4z"/><path d="M559.4 1406.8l14.2 24.6h-28.4z"/><path d="M567.6 1393.5l14.2 24.6h-28.4z"/><path d="M575.7 1408.1l14.2 24.6h-28.4z"/><path d="M583.8 1193.2l14.2 24.6h-28.4z"/><path d="M592 1158.6l14.2 24.6h-28.4z"/><path d="M600.1 1154.6l14.2 24.6h-28.4z"/><path d="M608.2 1151.7l14.2 24.6h-28.4z"/><path d="M616.4 1153.9l14.2 24.6h-28.4z"/><path d="M624.5 1151.7l14.2 24.6h-28.4z"/><path d="M632.6 1150.8l14.2 24.6h-28.4z"/><path d="M640.8 1151.7l14.2 24.6h-28.4z"/><path d="M648.9 1148.5l14.2 24.6h-28.4z"/><path d="M657 1151.6l14.2 24.6h-28.4z"/><path d="M665.2 1150.3l14.2 24.6h-28.4z"/><path d="M673.3 1150.6l14.2 24.6h-28.4z"/><path d="M681.5 1155.3l14.2 24.6h-28.4z"/><path d="M689.6 1149.6l14.2 24.6h-28.4z"/><path d="M697.7 1148.3l14.2 24.6h-28.4z"/><path d="M705.9 1146.7l14.2 24.6h-28.4z"/><path d="M714 1145.5l14.2 24.6h-28.4z"/><path d="M722.1 1147.2l14.2 24.6h-28.4z"/><path d="M730.3 1143.5l14.2 24.6h-28.4z"/><path d="M738.4 1142.6l14.2 24.6h-28.4z"/><path d="M746.5 1234.4l14.2 24.6h-28.4z"/><path d="M754.7 1362l14.2 24.6h-28.4z"/><path d="M762.8 1301.2l14.2 24.6h-28.4z"/><path d="M770.9 1364.4l14.2 24.6h-28.4z"/><path d="M779.1 1335.6l14.2 24.6h-28.4z"/><path d="M787.2 1305l14.2 24.6h-28.4z"/><path d="M795.3 1320.4l14.2 24.6h-28.4z"/><path d="M803.5 1293.2l14.2 24.6h-28.4z"/><path d="M811.6 1339.4l14.2 24.6h-28.4z"/><path d="M819.8 1332.3l14.2 24.6h-28.4z"/><path d="M827.9 1312.4l14.2 24.6h-28.4z"/><path d="M836 1329.3l14.2 24.6h-28.4z"/><path d="M844.2 1299.4l14.2 24.6h-28.4z"/><path d="M852.3 1349.2l14.2 24.6h-28.4z"/><path d="M860.4 1327.4l14.2 24.6h-28.4z"/><path d="M868.6 1316.4l14.2 24.6h-28.4z"/><path d="M876.7 1329.7l14.2 24.6h-28.4z"/><path d="M884.8 1303.7l14.2 24.6h-28.4z"/><path d="M893 1344.8l14.2 24.6h-28.4z"/><path d="M901.1 1312.3l14.2 24.6h-28.4z"/><path d="M909.2 1171.9l14.2 24.6h-28.4z"/><path d="M917.4 1146.4l14.2 24.6h-28.4z"/><path d="M925.5 1149.9l14.2 24.6h-28.4z"/><path d="M933.6 1141.9l14.2 24.6h-28.4z"/><path d="M941.8 1145.9l14.2 24.6h-28.4z"/><path d="M949.9 1144.7l14.2 24.6h-28.4z"/><path d="M958 1143.1l14.2 24.6h-28.4z"/><path d="M966.2 1140l14.2 24.6h-28.4z"/><path d="M974.3 1145.2l14.2 24.6h-28.4z"/><path d="M982.5 1141.1l14.2 24.6h-28.4z"/><path d="M990.6 1139.1l14.2 24.6h-28.4z"/><path d="M998.7 1137.4l14.2 24.6h-28.4z"/><path d="M1006.9 1137.2l14.2 24.6h-28.4z"/><path d="M1015 1136.9l14.2 24.6h-28.4z"/><path d="M1023.1 1141.6l14.2 24.6h-28.4z"/><path d="M1031.3 1139.3l14.2 24.6h-28.4z"/><path d="M1039.4 1138.6l14.2 24.6h-28.4z"/><path d="M1047.5 1134.7l14.2 24.6h-28.4z"/><path d="M1055.7 1131.4l14.2 24.6h-28.4z"/><path d="M1063.8 1141.7l14.2 24.6h-28.4z"/><path d="M1071.9 1164.4l14.2 24.6h-28.4z"/><path d="M1080.1 1304.6l14.2 24.6h-28.4z"/><path d="M1088.2 1325.9l14.2 24.6h-28.4z"/><path d="M1096.3 1320.4l14.2 24.6h-28.4z"/><path d="M1104.5 1336.3l14.2 24.6h-28.4z"/><path d="M1112.6 1296.1l14.2 24.6h-28.4z"/><path d="M1120.7 1308.4l14.2 24.6h-28.4z"/><path d="M1128.9 1309.9l14.2 24.6h-28.4z"/><path d="M1137 1306.4l14.2 24.6h-28.4z"/><path d="M1145.2 1309.9l14.2 24.6h-28.4z"/><path d="M1153.3 1292.9l14.2 24.6h-28.4z"/><path d="M1161.4 1322.4l14.2 24.6h-28.4z"/><path d="M1169.6 1316.4l14.2 24.6h-28.4z"/><path d="M1177.7 1299.4l14.2 24.6h-28.4z"/><path d="M1185.8 1316.9l14.2 24.6h-28.4z"/><path d="M1194 1289l14.2 24.6h-28.4z"/><path d="M1202.1 1321.1l14.2 24.6h-28.4z"/><path d="M1210.2 1300.4l14.2 24.6h-28.4z"/><path d="M1218.4 1290.5l14.2 24.6h-28.4z"/><path d="M1226.5 1312.8l14.2 24.6h-28.4z"/><path d="M1234.6 1158.8l14.2 24.6h-28.4z"/><path d="M1242.8 1146.4l14.2 24.6h-28.4z"/><path d="M1250.9 1140.9l14.2 24.6h-28.4z"/><path d="M1259 1126.2l14.2 24.6h-28.4z"/><path d="M1267.2 1128.3l14.2 24.6h-28.4z"/><path d="M1275.3 1126.1l14.2 24.6h-28.4z"/><path d="M1283.4 1130.2l14.2 24.6h-28.4z"/><path d="M1291.6 1132.8l14.2 24.6h-28.4z"/><path d="M1299.7 1130.9l14.2 24.6h-28.4z"/><path d="M1307.8 1134l14.2 24.6h-28.4z"/><path d="M1316 1129.6l14.2 24.6h-28.4z"/><path d="M1324.1 1134.8l14.2 24.6h-28.4z"/><path d="M1332.3 1133.8l14.2 24.6h-28.4z"/><path d="M1340.4 1135.4l14.2 24.6h-28.4z"/><path d="M1348.5 1136.4l14.2 24.6h-28.4z"/><path d="M1356.7 1132.7l14.2 24.6h-28.4z"/><path d="M1364.8 1135.4l14.2 24.6h-28.4z"/><path d="M1372.9 1134.2l14.2 24.6h-28.4z"/><path d="M1381.1 1136l14.2 24.6h-28.4z"/><path d="M1389.2 1134.6l14.2 24.6h-28.4z"/><path d="M1397.3 1207.4l14.2 24.6h-28.4z"/><path d="M1405.5 1286.1l14.2 24.6h-28.4z"/><path d="M1413.6 1291.6l14.2 24.6h-28.4z"/><path d="M1421.7 1306.8l14.2 24.6h-28.4z"/><path d="M1429.9 1293.4l14.2 24.6h-28.4z"/><path d="M1438 1285l14.2 24.6h-28.4z"/><path d="M1446.1 1289.2l14.2 24.6h-28.4z"/><path d="M1454.3 1290.5l14.2 24.6h-28.4z"/><path d="M1462.4 1291l14.2 24.6h-28.4z"/><path d="M1470.5 1289.7l14.2 24.6h-28.4z"/><path d="M1478.7 1290l14.2 24.6h-28.4z"/><path d="M1486.8 1289.3l14.2 24.6h-28.4z"/><path d="M1495 1291.6l14.2 24.6h-28.4z"/><path d="M1503.1 1291.6l14.2 24.6h-28.4z"/><path d="M1511.2 1293.2l14.2 24.6h-28.4z"/><path d="M1519.4 1289.7l14.2 24.6h-28.4z"/><path d="M1527.5 1290l14.2 24.6h-28.4z"/><path d="M1535.6 1293.7l14.2 24.6h-28.4z"/><path d="M1543.8 1294.1l14.2 24.6h-28.4z"/><path d="M1551.9 1292.5l14.2 24.6h-28.4z"/><path d="M1560 1168.4l14.2 24.6h-28.4z"/><path d="M1568.2 1140.4l14.2 24.6h-28.4z"/><path d="M1576.3 1126.4l14.2 24.6h-28.4z"/><path d="M1584.4 1125.9l14.2 24.6h-28.4z"/><path d="M1592.6 1125.5l14.2 24.6h-28.4z"/><path d="M1600.7 1125.7l14.2 24.6h-28.4z"/><path d="M1608.8 1129.6l14.2 24.6h-28.4z"/><path d="M1617 1128.6l14.2 24.6h-28.4z"/><path d="M1625.1 1130.7l14.2 24.6h-28.4z"/><path d="M1633.2 1132.7l14.2 24.6h-28.4z"/><path d="M1641.4 1131l14.2 24.6h-28.4z"/><path d="M1649.5 1129.4l14.2 24.6h-28.4z"/><path d="M1657.7 1129.8l14.2 24.6h-28.4z"/><path d="M1665.8 1123.2l14.2 24.6h-28.4z"/><path d="M1673.9 1123l14.2 24.6h-28.4z"/><path d="M1682.1 1127.8l14.2 24.6h-28.4z"/><path d="M1690.2 1123.1l14.2 24.6h-28.4z"/><path d="M1698.3 1122.2l14.2 24.6h-28.4z"/><path d="M1706.5 1121.1l14.2 24.6h-28.4z"/><path d="M1714.6 1122.4l14.2 24.6h-28.4z"/><path d="M1722.7 1243.9l14.2 24.6h-28.4z"/><path d="M1730.9 1297.9l14.2 24.6h-28.4z"/><path d="M1739 1279.1l14.2 24.6h-28.4z"/><path d="M1747.1 1303.7l14.2 24.6h-28.4z"/><path d="M1755.3 1297.4l14.2 24.6h-28.4z"/><path d="M1763.4 1273.7l14.2 24.6h-28.4z"/><path d="M1771.5 1288.4l14.2 24.6h-28.4z"/><path d="M1779.7 1270.7l14.2 24.6h-28.4z"/><path d="M1787.8 1298.1l14.2 24.6h-28.4z"/><path d="M1796 1288.8l14.2 24.6h-28.4z"/><path d="M1804.1 1286l14.2 24.6h-28.4z"/><path d="M1812.2 1285.6l14.2 24.6h-28.4z"/><path d="M1820.4 1272.2l14.2 24.6h-28.4z"/><path d="M1828.5 1299.4l14.2 24.6h-28.4z"/><path d="M1836.6 1285.6l14.2 24.6h-28.4z"/><path d="M1844.8 1286l14.2 24.6h-28.4z"/><path d="M1852.9 1288.8l14.2 24.6h-28.4z"/><path d="M1861 1272l14.2 24.6h-28.4z"/><path d="M1869.2 1300.4l14.2 24.6h-28.4z"/><path d="M1877.3 1281.3l14.2 24.6h-28.4z"/><path d="M1885.4 1160l14.2 24.6h-28.4z"/><path d="M1893.6 1143.3l14.2 24.6h-28.4z"/><path d="M1901.7 1136l14.2 24.6h-28.4z"/><path d="M1909.8 1129l14.2 24.6h-28.4z"/><path d="M1918 1131.4l14.2 24.6h-28.4z"/><path d="M1926.1 1128l14.2 24.6h-28.4z"/><path d="M1934.2 1125.2l14.2 24.6h-28.4z"/><path d="M1942.4 1129.2l14.2 24.6h-28.4z"/><path d="M1950.5 1131.8l14.2 24.6h-28.4z"/><path d="M1958.7 1126.2l14.2 24.6h-28.4z"/><path d="M1966.8 1127.4l14.2 24.6h-28.4z"/><path d="M1974.9 1132.8l14.2 24.6h-28.4z"/><path d="M1983.1 1131.4l14.2 24.6h-28.4z"/><path d="M1991.2 1132.2l14.2 24.6h-28.4z"/><path d="M1999.3 1125.8l14.2 24.6h-28.4z"/><path d="M2007.5 1124.5l14.2 24.6h-28.4z"/><path d="M2015.6 1129.7l14.2 24.6h-28.4z"/><path d="M2023.7 1124.1l14.2 24.6h-28.4z"/><path d="M2031.9 1122.5l14.2 24.6h-28.4z"/><path d="M2040 1125.9l14.2 24.6h-28.4z"/><path d="M2048.1 1174.4l14.2 24.6h-28.4z"/><path d="M2056.3 1276.8l14.2 24.6h-28.4z"/><path d="M2064.4 1284.4l14.2 24.6h-28.4z"/><path d="M2072.5 1292.9l14.2 24.6h-28.4z"/><path d="M2080.7 1284.2l14.2 24.6h-28.4z"/><path d="M2088.8 1267.6l14.2 24.6h-28.4z"/><path d="M2096.9 1282.6l14.2 24.6h-28.4z"/><path d="M2105.1 1278.4l14.2 24.6h-28.4z"/><path d="M2113.2 1284.4l14.2 24.6h-28.4z"/><path d="M2121.3 1280.8l14.2 24.6h-28.4z"/><path d="M2129.5 1270.2l14.2 24.6h-28.4z"/><path d="M2137.6 1293.6l14.2 24.6h-28.4z"/><path d="M2145.8 1283.4l14.2 24.6h-28.4z"/><path d="M2153.9 1284.1l14.2 24.6h-28.4z"/><path d="M2162 1284.2l14.2 24.6h-28.4z"/><path d="M2170.2 1272.3l14.2 24.6h-28.4z"/><path d="M2178.3 1294.6l14.2 24.6h-28.4z"/><path d="M2186.4 1283.5l14.2 24.6h-28.4z"/><path d="M2194.6 1284.8l14.2 24.6h-28.4z"/></g>
</g>
<g stroke="#000" fill="none">
<line x1="405.7" y1="80" x2="405.7" y2="1451.4" stroke-width="8.2" stroke-linecap="round"/>
<line x1="379" y1="1451.4" x2="2194.3" y2="1451.4" stroke-width="8.2" stroke-linecap="round"/>
<path d="M379 1224.7H403M379 998H403M379 771.3H403M379 544.6H403M379 317.9H403M379 91.2H403" stroke-width="8.2" stroke-linecap="round"/>
<path d="M388.2 1406.9H403M388.2 1375.6H403M388.2 1351.8H403M388.2 1332.7H403M388.2 1316.7H403M388.2 1303H403M388.2 1290.9H403M388.2 1280.1H403M388.2 1270.4H403M388.2 1261.6H403M388.2 1253.5H403M388.2 1246H403M388.2 1239.1H403M388.2 1232.6H403M388.2 1180.2H403M388.2 1148.9H403M388.2 1125.1H403M388.2 1106H403M388.2 1090H403M388.2 1076.3H403M388.2 1064.2H403M388.2 1053.4H403M388.2 1043.7H403M388.2 1034.9H403M388.2 1026.8H403M388.2 1019.3H403M388.2 1012.4H403M388.2 1005.9H403M388.2 953.5H403M388.2 922.2H403M388.2 898.4H403M388.2 879.3H403M388.2 863.3H403M388.2 849.6H403M388.2 837.5H403M388.2 826.7H403M388.2 817H403M388.2 808.2H403M388.2 800.1H403M388.2 792.6H403M388.2 785.7H403M388.2 779.2H403M388.2 726.8H403M388.2 695.5H403M388.2 671.7H403M388.2 652.6H403M388.2 636.6H403M388.2 622.9H403M388.2 610.8H403M388.2 600H403M388.2 590.3H403M388.2 581.5H403M388.2 573.4H403M388.2 565.9H403M388.2 559H403M388.2 552.5H403M388.2 500.1H403M388.2 468.8H403M388.2 445H403M388.2 425.9H403M388.2 409.9H403M388.2 396.2H403M388.2 384.1H403M388.2 373.3H403M388.2 363.6H403M388.2 354.8H403M388.2 346.7H403M388.2 339.2H403M388.2 332.3H403M388.2 325.8H403M388.2 273.4H403M388.2 242.1H403M388.2 218.3H403M388.2 199.2H403M388.2 183.2H403M388.2 169.5H403M388.2 157.4H403M388.2 146.6H403M388.2 136.9H403M388.2 128.1H403M388.2 120H403M388.2 112.5H403M388.2 105.6H403M388.2 99.1H403" stroke-width="8.5"/>
<path d="M413 1451.4V1476M819.8 1451.4V1476M1226.5 1451.4V1476M1633.2 1451.4V1476M2040 1451.4V1476" stroke-width="8.6" stroke-linecap="round"/>
<path d="M616.4 1451.4V1463.5M1023.1 1451.4V1463.5M1429.9 1451.4V1463.5M1836.6 1451.4V1463.5" stroke-width="8.6" stroke-linecap="round"/>
</g>
<text transform="translate(363.3 1472.9) scale(0.989 1)" font-size="80.2" fill="#000" text-anchor="end">0.1</text>
<text transform="translate(363.3 1246.2) scale(0.989 1)" font-size="80.2" fill="#000" text-anchor="end">1</text>
<text transform="translate(363.3 1019.5) scale(0.989 1)" font-size="80.2" fill="#000" text-anchor="end">10</text>
<text transform="translate(363.3 792.8) scale(0.989 1)" font-size="80.2" fill="#000" text-anchor="end">100</text>
<text transform="translate(363.3 566.1) scale(0.989 1)" font-size="80.2" fill="#000" text-anchor="end">1000</text>
<text transform="translate(363.3 339.4) scale(0.989 1)" font-size="80.2" fill="#000" text-anchor="end">10,000</text>
<text transform="translate(363.3 112.7) scale(0.989 1)" font-size="80.2" fill="#000" text-anchor="end">100,000</text>
<text transform="translate(388.8 1550.6) scale(0.989 1)" font-size="80.2" fill="#000">0</text>
<text transform="translate(753.5 1550.6) scale(0.989 1)" font-size="80.2" fill="#000">500</text>
<text transform="translate(1146.4 1550.6) scale(0.989 1)" font-size="80.2" fill="#000">1000</text>
<text transform="translate(1553.5 1550.6) scale(0.989 1)" font-size="80.2" fill="#000">1500</text>
<text transform="translate(1959 1550.6) scale(0.989 1)" font-size="80.2" fill="#000">2000</text>
<text transform="translate(1287.5 1657.3) scale(1.034 1)" font-size="91" fill="#000">time (s)</text>
<g transform="translate(139.5 1268) rotate(-90)">
<text transform="translate(0.3 0) scale(0.924 1)" font-size="103" fill="#000" class="it">G<tspan dx="3.5">'</tspan></text>
<text transform="translate(97.3 0) scale(0.964 1)" font-size="103" fill="#000">,</text>
<text transform="translate(153.6 0) scale(0.924 1)" font-size="103" fill="#000" class="it">G<tspan dx="2">"</tspan></text>
<text transform="translate(299.1 0) scale(0.936 1)" font-size="103" fill="#000">(Pa),</text>
<text transform="translate(536.5 0) scale(0.964 1)" font-size="103" fill="#000">tan</text>
<text transform="translate(683.9 0) scale(1.16 1)" font-size="83" fill="#000" class="sy">δ</text>
</g>
<text transform="translate(2221.2 147.2) scale(0.92 1)" font-size="82.3" fill="#ff0000" class="it">G'</text>
<text transform="translate(2219.4 243.2) scale(0.92 1)" font-size="82.3" fill="#0000ff" class="it">G"</text>
<text transform="translate(2106.5 844.8) scale(1.08 1)" font-size="67" fill="#808082" class="sy">γ</text>
<text transform="translate(2177.6 844.8) scale(0.966 1)" font-size="70" fill="#808082">=</text>
<text transform="translate(2239.4 844.8) scale(0.966 1)" font-size="70" fill="#808082">100%</text>
<text transform="translate(2192.8 1038.2) scale(1.08 1)" font-size="67" fill="#808082" class="sy">γ</text>
<text transform="translate(2263.8 1038.2) scale(0.966 1)" font-size="70" fill="#808082">=</text>
<text transform="translate(2325.6 1038.2) scale(0.966 1)" font-size="70" fill="#808082">1%</text>
<text transform="translate(2208.5 1323.3) scale(0.96 1)" font-size="74.3" fill="#000">tan</text>
<text transform="translate(2321 1323.2) scale(1.125 1)" font-size="63" fill="#000" class="sy">δ</text>
</svg></body></html>
